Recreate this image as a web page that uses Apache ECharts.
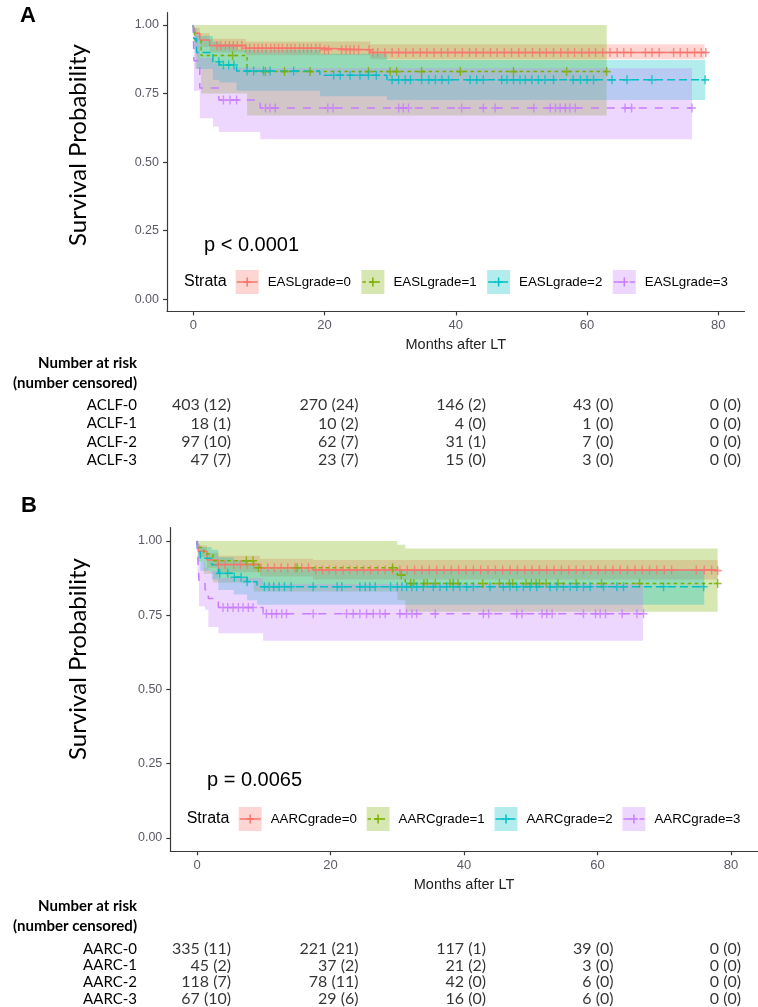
<!DOCTYPE html>
<html><head><meta charset="utf-8">
<script src="https://cdn.jsdelivr.net/npm/echarts@6/dist/echarts.min.js"></script>
<style>html,body{margin:0;padding:0;background:#fff}#c{width:758px;height:1007px}</style>
</head><body><div id="c"></div>
<script>
// ---------------- DATA ----------------
const strataA = ['EASLgrade=0','EASLgrade=1','EASLgrade=2','EASLgrade=3'];
const strataB = ['AARCgrade=0','AARCgrade=1','AARCgrade=2','AARCgrade=3'];
const xTicks = [0,20,40,60,80];
const yTicks = [0,0.25,0.5,0.75,1];
const pValueA = 'p < 0.0001';
const pValueB = 'p = 0.0065';
const xTitle = 'Months after LT';
const yTitle = 'Survival Probability';
const tableHeader = ['Number at risk','(number censored)'];

// Panel A survival curves [time, survival]
const survA0 = [[0,1],[0.3,0.97],[1,0.945],[2.5,0.925],[8,0.915],[20,0.91],[27,0.90],[78.3,0.90]];
const survA1 = [[0,1],[0.3,0.944],[1.2,0.889],[8.2,0.83],[63,0.83]];
const survA2 = [[0,1],[0.1,0.95],[0.5,0.90],[3,0.866],[4,0.854],[6.6,0.832],[19.3,0.817],[29.5,0.80],[78,0.80]];
const survA3 = [[0,1],[0.1,0.87],[1,0.77],[3.9,0.726],[10.2,0.697],[76,0.697]];
// Panel A confidence bands [time, lower, upper]
const bandA0 = [[0,1,1],[0.3,0.95,0.99],[1,0.92,0.97],[2.5,0.90,0.95],[8,0.89,0.94],[27,0.875,0.93],[77.9,0.875,0.93]];
const bandA1 = [[0,1,1],[0.3,0.84,1],[1.2,0.75,1],[8.2,0.67,1],[63,0.67,1]];
const bandA2 = [[0,1,1],[0.1,0.91,0.99],[0.5,0.84,0.96],[3,0.80,0.94],[4,0.79,0.93],[6.6,0.76,0.91],[19.3,0.74,0.895],[29.5,0.726,0.872],[78,0.726,0.872]];
const bandA3 = [[0,1,1],[0.1,0.76,0.97],[1,0.66,0.88],[3,0.63,0.86],[3.9,0.61,0.845],[10.2,0.583,0.842],[76,0.583,0.842]];
// Panel A censoring times
const censA0 = [3.6,4.2,4.9,5.5,6.1,6.7,7.4,8.0,8.6,9.3,9.9,10.5,11.1,11.8,12.4,13.0,13.6,14.3,14.9,15.5,16.2,16.8,17.4,18.0,18.7,19.3,20.0,20.6,22.6,23.3,23.9,24.5,25.2,26.8,27.4,28.1,29.2,30.3,31.3,32.4,33.5,34.6,35.6,36.7,37.8,38.8,39.9,41.0,42.1,43.1,44.2,45.3,46.3,47.4,48.5,49.6,50.6,51.7,52.8,53.8,54.9,56.0,57.1,58.1,59.2,60.3,61.3,62.4,63.5,64.6,65.6,66.7,68.9,69.9,71.0,73.2,74.2,75.3,76.4,77.4,78.1];
const censA1 = [6,11,13.9,17.8,26.7,30,31,34.8,40.7,48.8,56.9,63];
const censA2 = [3.9,4.6,5.4,6.2,8.2,9.2,10.7,11.7,15.3,21.4,22.4,23.9,25.4,26.7,27.9,30.3,31.3,32.3,33.1,34.8,35.9,36.9,37.9,38.9,42.2,43.2,44.2,47.0,47.8,48.8,49.8,50.6,51.6,52.6,53.6,54.9,57.9,59.0,60.0,61.0,63.8,66.1,69.9,78.0];
const censA3 = [4.6,5.6,6.6,11,11.7,12.5,20.5,21.3,31.3,32.0,32.8,40.9,44.2,46,51.9,54.4,55.2,55.9,56.7,57.4,58.2,65.8,66.8,76];

// Panel B survival curves
const survB0 = [[0,1],[0.2,0.965],[1.5,0.936],[3.2,0.921],[9.4,0.91],[17.4,0.902],[78,0.90]];
const survB1 = [[0,1],[0.2,0.978],[1,0.956],[2.4,0.933],[8.5,0.91],[30,0.885],[31.2,0.857],[78,0.857]];
const survB2 = [[0,1],[0.1,0.964],[0.5,0.942],[2.2,0.92],[3.2,0.891],[5.5,0.878],[7.5,0.863],[9,0.846],[76,0.846]];
const survB3 = [[0,1],[0.1,0.955],[0.3,0.866],[1.2,0.836],[1.7,0.806],[3.2,0.776],[9.9,0.755],[66.8,0.755]];
// Panel B confidence bands
const bandB0 = [[0,1,1],[0.2,0.945,0.985],[1.5,0.91,0.96],[3.2,0.895,0.95],[9.4,0.88,0.94],[17.4,0.87,0.936],[78,0.87,0.936]];
const bandB1 = [[0,1,1],[0.2,0.93,1],[1,0.89,1],[2.4,0.86,1],[8.5,0.83,1],[30,0.80,0.987],[31.2,0.762,0.975],[78,0.762,0.975]];
const bandB2 = [[0,1,1],[0.1,0.93,0.99],[0.5,0.90,0.98],[2.2,0.87,0.97],[3.2,0.835,0.945],[5.5,0.82,0.935],[7.5,0.80,0.925],[9,0.785,0.905],[76,0.785,0.905]];
const bandB3 = [[0,1,1],[0.1,0.89,1],[0.3,0.78,0.93],[1.2,0.768,0.91],[1.7,0.71,0.90],[3.2,0.689,0.875],[9.9,0.664,0.855],[66.8,0.664,0.855]];
// Panel B censoring times
const censB0 = [3.2,4.2,5.5,6.5,7.5,8.5,9.6,10.6,11.6,12.6,13.6,14.7,15.7,16.7,17.8,18.8,19.8,20.8,21.9,22.9,24.0,25.0,26.0,27.1,28.2,29.3,30.4,31.5,32.6,33.7,34.8,35.9,37.0,38.1,39.2,40.3,41.4,42.5,43.6,44.7,45.8,46.9,48.0,49.1,50.2,51.3,52.4,53.5,54.6,55.7,56.8,57.9,59.0,60.1,61.2,62.3,63.4,64.5,65.6,66.7,67.8,68.9,70.0,71.1,74.8,76.0,77.1,78.0];
const censB1 = [7.4,8.4,9.2,15.0,29.3,30.6,32,32.5,34,34.5,35.7,37.9,38.4,39.1,42.8,45.3,46.8,47.3,49.3,50.1,50.8,51.3,52.3,54.1,56.8,60.6,66.3,78];
const censB2 = [3.4,4.6,5.6,6.6,7.5,10.1,10.8,11.5,12.3,13.1,14.1,17.4,21,21.7,24.4,25.2,25.9,26.7,29.0,30.0,30.7,31.4,32.2,32.9,33.9,35.4,36.4,37.4,38.4,39.4,40.4,41.4,43.9,45.9,46.9,47.9,48.9,49.9,50.9,52.9,53.9,54.9,55.9,56.9,57.9,58.9,60.9,62.9,63.9,69.9,75.9];
const censB3 = [3.9,4.6,5.4,6.2,6.9,7.7,8.4,10.4,11.2,11.9,12.7,13.4,17.4,22.4,23.4,24.4,25.4,26.4,27.4,28.2,30.4,31.4,32.2,32.9,35.7,42.9,43.7,47.9,48.7,51.7,52.4,53.2,57.9,59.7,60.4,61.2,63.7,65.9,66.9];

// Risk tables
const riskRowsA = ['ACLF-0','ACLF-1','ACLF-2','ACLF-3'];
const atRiskA = [[403,270,146,43,0],[18,10,4,1,0],[97,62,31,7,0],[47,23,15,3,0]];
const censoredA = [[12,24,2,0,0],[1,2,0,0,0],[10,7,1,0,0],[7,7,0,0,0]];
const riskRowsB = ['AARC-0','AARC-1','AARC-2','AARC-3'];
const atRiskB = [[335,221,117,39,0],[45,37,21,3,0],[118,78,42,6,0],[67,29,16,6,0]];
const censoredB = [[11,21,1,0,0],[2,2,2,0,0],[7,11,0,0,0],[10,6,0,0,0]];

// ---------------- STYLE / LAYOUT ----------------
const COLORS = ['#F8766D','#7CAE00','#00BFC4','#C77CFF'];
const DASHES = ['solid',[3.5,3.5],[8,4],[8,8]];
const SANS = "'Liberation Sans', Arial, sans-serif";
const NARROW = "'Liberation Sans Narrow', 'Liberation Sans', sans-serif";
const CALIBRI = "Lato, 'Open Sans', sans-serif";
const AXIS_COLOR = '#3a3a3a';
const TICK_COLOR = '#5a5a66';
const CROSS = 'path://M5,0L5,10M0,5L10,5';

function rgba(hex, a){const n=parseInt(hex.slice(1),16);return `rgba(${n>>16},${(n>>8)&255},${n&255},${a})`;}
function survAt(curve,t){let s=curve[0][1];for(const p of curve){if(p[0]<=t)s=p[1];else break;}return s;}

const panels = [
  {key:'A', strata:strataA, surv:[survA0,survA1,survA2,survA3], band:[bandA0,bandA1,bandA2,bandA3], cens:[censA0,censA1,censA2,censA3],
   rows:riskRowsA, atRisk:atRiskA, censored:censoredA, p:pValueA,
   grid:{left:167,top:12.7,width:577.5,height:298.7}, table:{left:231,width:510,top:396,height:73.3},
   header:[137,363,383], yTitlePos:[78,145],
   letter:[20,5], pPos:[204,245], legend:{strataX:184, y:282, box0:235.7, step:125.7}},
  {key:'B', strata:strataB, surv:[survB0,survB1,survB2,survB3], band:[bandB0,bandB1,bandB2,bandB3], cens:[censB0,censB1,censB2,censB3],
   rows:riskRowsB, atRisk:atRiskB, censored:censoredB, p:pValueB,
   grid:{left:170.3,top:527.6,width:587.4,height:323.7}, table:{left:231,width:510,top:940.5,height:72},
   header:[137,906,926], yTitlePos:[78,659],
   letter:[21,495], pPos:[207,780], legend:{strataX:186.7, y:819, box0:238.7, step:127.9}}
];

const grid=[], xAxis=[], yAxis=[], series=[], graphic=[];
panels.forEach((P, pi) => {
  const gi = pi*2, ti = pi*2+1;
  grid.push(Object.assign({containLabel:false}, P.grid));
  grid.push(Object.assign({containLabel:false}, P.table));
  xAxis.push({gridIndex:gi, type:'value', min:-4, max:84,
    axisLine:{show:true, onZero:false, lineStyle:{color:AXIS_COLOR, width:1.2}},
    axisTick:{show:true, customValues:xTicks, length:4, lineStyle:{color:AXIS_COLOR, width:1.2}},
    axisLabel:{customValues:xTicks, color:TICK_COLOR, fontFamily:NARROW, fontSize:13, margin:8},
    splitLine:{show:false},
    name:xTitle, nameLocation:'middle', nameGap:26, nameTextStyle:{fontFamily:NARROW, fontSize:14.5, color:'#222'}});
  yAxis.push({gridIndex:gi, type:'value', min:-0.045, max:1.045,
    axisLine:{show:true, onZero:false, lineStyle:{color:AXIS_COLOR, width:1.2}},
    axisTick:{show:true, customValues:yTicks, length:4, lineStyle:{color:AXIS_COLOR, width:1.2}},
    axisLabel:{customValues:yTicks, color:TICK_COLOR, fontFamily:SANS, fontSize:12.5, margin:8, formatter:v=>v.toFixed(2)},
    splitLine:{show:false}});
  // table axes
  xAxis.push({gridIndex:ti, type:'value', min:0, max:80, show:false});
  yAxis.push({gridIndex:ti, type:'category', inverse:true, data:P.rows,
    axisLine:{show:false}, axisTick:{show:false}, splitLine:{show:false},
    axisLabel:{interval:0, margin:94, fontFamily:CALIBRI, fontSize:15, color:'#000'}});

  // bands
  P.band.forEach((rows, i) => {
    series.push({type:'custom', xAxisIndex:gi, yAxisIndex:gi, data:rows, silent:true, z:1, clip:true,
      renderItem:(params, api) => {
        if (params.dataIndex !== 0) return null;
        const top=[], bot=[];
        for (let k=0;k<rows.length;k++){
          const t=rows[k][0], tn = k<rows.length-1 ? rows[k+1][0] : rows[k][0];
          top.push(api.coord([t,rows[k][2]]), api.coord([tn,rows[k][2]]));
          bot.push(api.coord([t,rows[k][1]]), api.coord([tn,rows[k][1]]));
        }
        return {type:'polygon', shape:{points:top.concat(bot.reverse())}, style:{fill:rgba(COLORS[i],0.3)}};
      }});
  });
  // curves
  P.surv.forEach((curve, i) => {
    series.push({type:'line', xAxisIndex:gi, yAxisIndex:gi, step:'end', data:curve, symbol:'none', silent:true, z:3,
      lineStyle:{color:COLORS[i], width:1.5, type:DASHES[i]}});
  });
  // censor marks
  P.cens.forEach((ts, i) => {
    series.push({type:'scatter', xAxisIndex:gi, yAxisIndex:gi, silent:true, z:4,
      data:ts.map(t=>[t, survAt(P.surv[i], t)]), symbol:CROSS, symbolSize:[8,9],
      itemStyle:{color:'none', borderColor:COLORS[i], borderWidth:1.5}});
  });
  // table values
  const tdata=[];
  P.atRisk.forEach((row, r) => row.forEach((n, c) => tdata.push([xTicks[c], r, n, P.censored[r][c]])));
  series.push({type:'scatter', xAxisIndex:ti, yAxisIndex:ti, silent:true, data:tdata, symbolSize:0,
    label:{show:true, position:'left', distance:0, fontFamily:CALIBRI, fontSize:16, color:'#000',
      formatter:p=>`${p.data[2]} (${p.data[3]})`}});

  // y title, table header, panel letter, p-value, legend
  graphic.push({type:'text', x:P.yTitlePos[0], y:P.yTitlePos[1], rotation:Math.PI/2,
    style:{text:yTitle, font:`24px ${CALIBRI}`, fill:'#000', align:'center', verticalAlign:'middle'}});
  tableHeader.forEach((h, k) => graphic.push({type:'text', x:P.header[0], y:P.header[k+1],
    style:{text:h, font:`bold 15px ${CALIBRI}`, fill:'#000', align:'right', verticalAlign:'middle'}}));
  graphic.push({type:'text', left:P.letter[0], top:P.letter[1], style:{text:P.key, font:`bold 22px ${SANS}`, fill:'#000'}});
  graphic.push({type:'text', x:P.pPos[0], y:P.pPos[1], style:{text:P.p, font:`20px ${SANS}`, fill:'#000', verticalAlign:'middle'}});
  const Lg = P.legend;
  graphic.push({type:'text', x:Lg.strataX, y:Lg.y, style:{text:'Strata', font:`16px ${SANS}`, fill:'#000', verticalAlign:'middle'}});
  P.strata.forEach((name, i) => {
    const bx = Lg.box0 + i*Lg.step, cy = Lg.y;
    graphic.push({type:'rect', shape:{x:bx, y:cy-12, width:23, height:24}, style:{fill:rgba(COLORS[i],0.3)}});
    graphic.push({type:'line', shape:{x1:bx+1, y1:cy, x2:bx+22, y2:cy}, style:{stroke:COLORS[i], lineWidth:1.5, lineDash: DASHES[i]==='solid'?null:DASHES[i]}});
    graphic.push({type:'line', shape:{x1:bx+11.5, y1:cy-4.5, x2:bx+11.5, y2:cy+4.5}, style:{stroke:COLORS[i], lineWidth:1.5}});
    graphic.push({type:'line', shape:{x1:bx+7.5, y1:cy, x2:bx+15.5, y2:cy}, style:{stroke:COLORS[i], lineWidth:1.5}});
    graphic.push({type:'text', x:bx+32, y:cy, style:{text:name, font:`13.3px ${SANS}`, fill:'#000', verticalAlign:'middle'}});
  });
});

const chart = echarts.init(document.getElementById('c'), null, {renderer:'canvas'});
chart.setOption({animation:false, backgroundColor:'#fff', grid, xAxis, yAxis, series, graphic});
</script>
</body></html>
